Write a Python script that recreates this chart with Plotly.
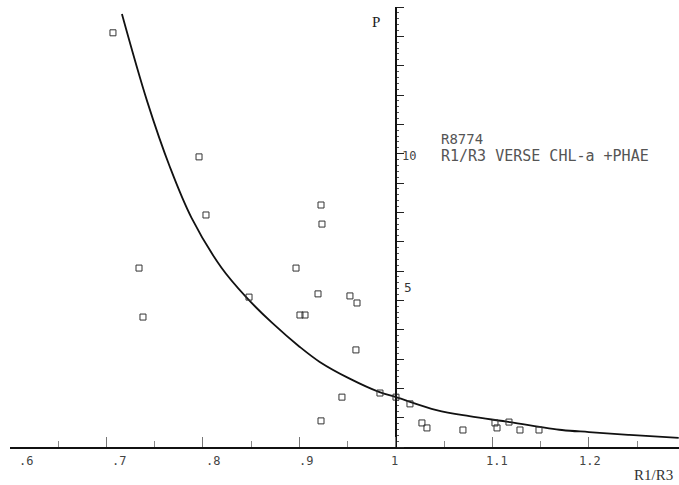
import plotly.graph_objects as go

# Scatter observations (R1/R3 ratio, P)
obs_x = [0.7067, 0.7959, 0.8031, 0.7337, 0.7378, 0.8477, 0.8964, 0.9223, 0.9233, 0.9192,
         0.9005, 0.9057, 0.9523, 0.9596, 0.9585, 0.9440, 0.9223, 0.9834, 1.0000, 1.0145,
         1.0269, 1.0321, 1.0694, 1.1026, 1.1047, 1.1171, 1.1285, 1.1482]
obs_y = [14.12, 9.89, 7.91, 6.10, 4.43, 5.11, 6.10, 8.25, 7.60, 5.22,
         4.50, 4.50, 5.15, 4.91, 3.31, 1.70, 0.89, 1.84, 1.70, 1.47,
         0.82, 0.65, 0.58, 0.82, 0.65, 0.85, 0.58, 0.58]

# Fitted curve
curve_x = [0.716, 0.742, 0.766, 0.788, 0.819, 0.845, 0.872, 0.900, 0.921, 0.952,
           0.983, 1.000, 1.042, 1.076, 1.118, 1.172, 1.200, 1.242, 1.293]
curve_y = [14.76, 11.80, 9.52, 7.82, 6.12, 5.10, 4.22, 3.42, 2.90, 2.33,
           1.87, 1.70, 1.26, 1.05, 0.85, 0.58, 0.51, 0.41, 0.31]

x_tickvals = [0.6, 0.7, 0.8, 0.9, 1.0, 1.1, 1.2]
x_ticktext = [".6", ".7", ".8", ".9", "1", "1.1", "1.2"]
y_tickvals = list(range(0, 16))

# pixel nudges of the plotter's tick labels relative to their ticks (styling only)
label_nudge_px = [16, 13, 10, 7, -1, 5, 1]
PX_PER_UNIT = 965.0

mono = "DejaVu Sans Mono"
serif = "Liberation Serif"

fig = go.Figure()
fig.add_trace(go.Scatter(
    x=curve_x, y=curve_y, mode="lines",
    line=dict(color="#111111", width=1.8, shape="spline", smoothing=1.0),
    hoverinfo="skip", showlegend=False))
fig.add_trace(go.Scatter(
    x=obs_x, y=obs_y, mode="markers",
    marker=dict(symbol="square-open", size=6, color="#333333", line=dict(width=1)),
    showlegend=False, cliponaxis=False))

fig.update_layout(
    width=679, height=485,
    margin=dict(l=10, r=0, t=7, b=38, autoexpand=False),
    paper_bgcolor="white", plot_bgcolor="white",
    showlegend=False,
    xaxis=dict(
        range=[0.6, 1.2933], showgrid=False, zeroline=False, automargin=False,
        showline=True, linecolor="#111111", linewidth=2,
        tickvals=x_tickvals, showticklabels=False,
        ticks="inside", ticklen=10, tickcolor="#777777", tickwidth=1,
        minor=dict(dtick=0.05, tick0=0.6, ticks="inside", ticklen=6,
                   tickcolor="#888888", tickwidth=1),
    ),
    yaxis=dict(
        range=[0, 15], showgrid=False, zeroline=False, automargin=False,
        anchor="free", position=(396 - 10) / 669, side="right",
        showline=True, linecolor="#111111", linewidth=1.5,
        tickvals=y_tickvals, showticklabels=False,
        ticks="outside", ticklen=7, tickcolor="#222222", tickwidth=1,
        minor=dict(dtick=0.2, ticks="outside", ticklen=2,
                   tickcolor="#555555", tickwidth=1),
    ),
)

annos = []
for v, t, n in zip(x_tickvals, x_ticktext, label_nudge_px):
    annos.append(dict(x=v + n / PX_PER_UNIT, y=-14 / 440, xref="x", yref="paper",
                      text=t, showarrow=False, xanchor="center", yanchor="middle",
                      font=dict(family=mono, size=12, color="#444444")))

annos += [
    dict(x=0.979, y=14.49, xref="x", yref="y", text="P", showarrow=False,
         xanchor="center", yanchor="middle",
         font=dict(family=serif, size=15, color="#222222")),
    dict(x=1.013, y=9.93, xref="x", yref="y", text="10", showarrow=False,
         xanchor="center", yanchor="middle",
         font=dict(family=mono, size=12, color="#444444")),
    dict(x=1.012, y=5.41, xref="x", yref="y", text="5", showarrow=False,
         xanchor="center", yanchor="middle",
         font=dict(family="DejaVu Sans", size=12, color="#333333")),
    dict(x=1.045, y=10.5, xref="x", yref="y", text="R8774", showarrow=False,
         xanchor="left", yanchor="middle",
         font=dict(family=mono, size=14, color="#555555")),
    dict(x=1.045, y=9.93, xref="x", yref="y", text="R1/R3 VERSE CHL-a +PHAE",
         showarrow=False, xanchor="left", yanchor="middle",
         font=dict(family=mono, size=15, color="#555555")),
    dict(x=(653 - 10) / 669, y=(440 - 468) / 440, xref="paper", yref="paper",
         text="R1/R3", showarrow=False, xanchor="center", yanchor="middle",
         font=dict(family=serif, size=15, color="#333333")),
]
fig.update_layout(annotations=annos)

fig.write_html("out.html",
               config={"displayModeBar": False},
               post_script="document.body.style.margin='0px';document.body.style.overflow='hidden';")
